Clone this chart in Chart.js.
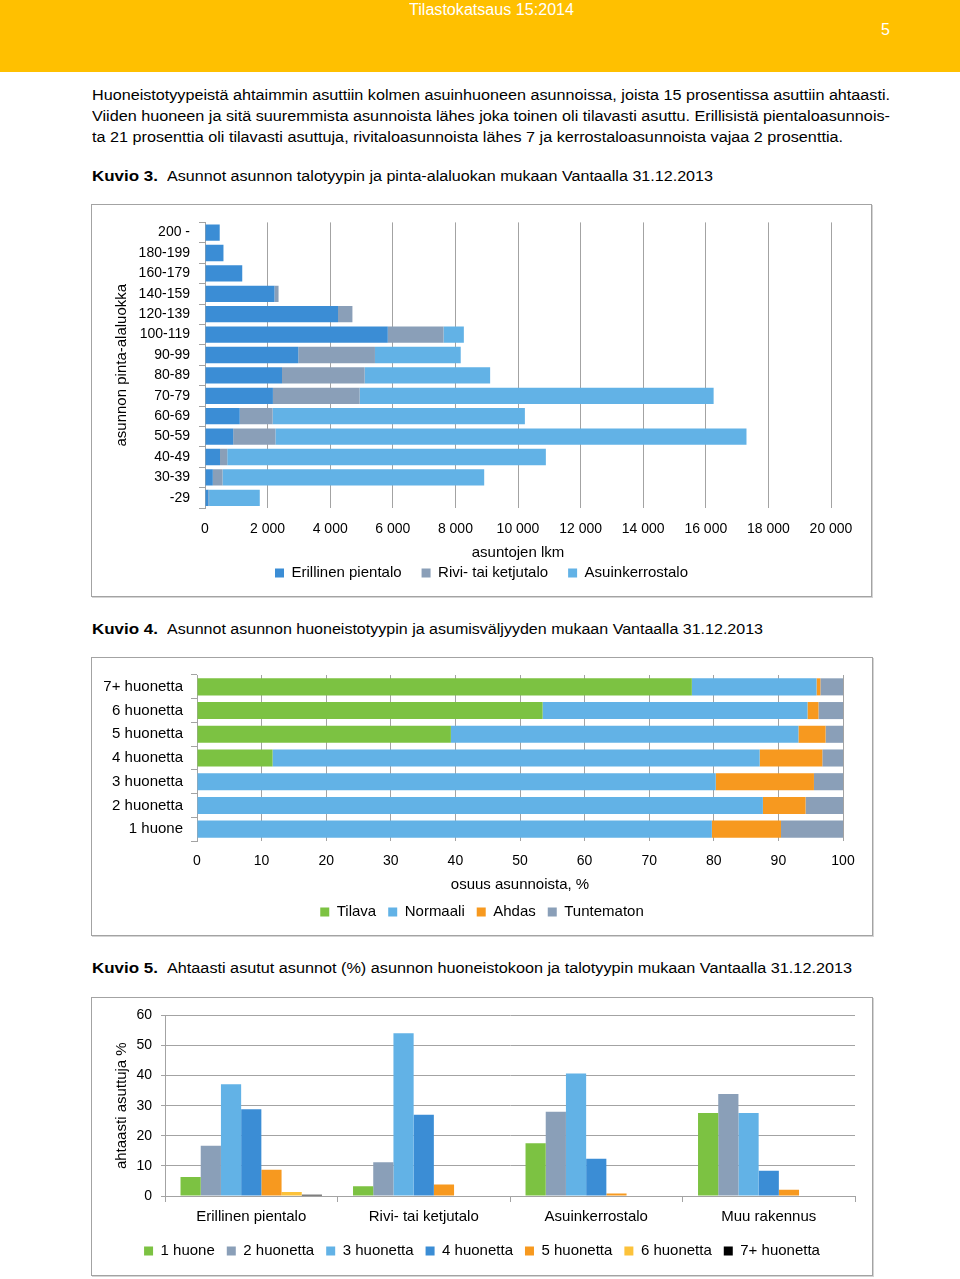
<!DOCTYPE html>
<html lang="fi">
<head>
<meta charset="utf-8">
<title>Tilastokatsaus 15:2014</title>
<script src="https://cdn.jsdelivr.net/npm/chart.js@4.4.1/dist/chart.umd.min.js"></script>
<style>
body { margin: 0; background: #fff; font-family: "Liberation Sans", Arial, sans-serif; color: #000; }
#page { position: relative; width: 960px; height: 1279px; overflow: hidden; }
.band { position: absolute; left: 0; top: 0; width: 960px; height: 72px; background: #ffc000; }
.t { position: absolute; white-space: nowrap; line-height: 18px; font-size: 15.5px; transform-origin: 0 50%; }
.w { color: #fff; font-size: 16px; }
.b { font-weight: bold; }
.box { position: absolute; border: 1px solid #a3a3a3; box-shadow: 1px 1px 0 #d4d4d4; }
.box canvas { position: absolute; left: 0; top: 0; }
</style>
</head>
<body>
<div id="page">
  <div class="band"></div>
  <div class="t w" id="hdr" style="left:409px; top:1px;">Tilastokatsaus 15:2014</div>
  <div class="t w" style="left:881px; top:21px;">5</div>

  <div class="t" id="p1" style="left:92px; top:86px;">Huoneistotyypeistä ahtaimmin asuttiin kolmen asuinhuoneen asunnoissa, joista 15 prosentissa asuttiin ahtaasti.</div>
  <div class="t" id="p2" style="left:92px; top:107px;">Viiden huoneen ja sitä suuremmista asunnoista lähes joka toinen oli tilavasti asuttu. Erillisistä pientaloasunnois-</div>
  <div class="t" id="p3" style="left:92px; top:128px;">ta 21 prosenttia oli tilavasti asuttuja, rivitaloasunnoista lähes 7 ja kerrostaloasunnoista vajaa 2 prosenttia.</div>

  <div class="t b" id="k3" style="left:92px; top:167px;">Kuvio 3.</div>
  <div class="t" id="c3" style="left:167px; top:167px;">Asunnot asunnon talotyypin ja pinta-alaluokan mukaan Vantaalla 31.12.2013</div>
  <div class="box" style="left:91px; top:204px; width:779px; height:391px;">
    <canvas id="kuvio3" width="779" height="391"></canvas>
  </div>

  <div class="t b" id="k4" style="left:92px; top:620px;">Kuvio 4.</div>
  <div class="t" id="c4" style="left:167px; top:620px;">Asunnot asunnon huoneistotyypin ja asumisväljyyden mukaan Vantaalla 31.12.2013</div>
  <div class="box" style="left:91px; top:657px; width:780px; height:277px;">
    <canvas id="kuvio4" width="780" height="277"></canvas>
  </div>

  <div class="t b" id="k5" style="left:92px; top:959px;">Kuvio 5.</div>
  <div class="t" id="c5" style="left:167px; top:959px;">Ahtaasti asutut asunnot (%) asunnon huoneistokoon ja talotyypin mukaan Vantaalla 31.12.2013</div>
  <div class="box" style="left:91px; top:997px; width:780px; height:277px;">
    <canvas id="kuvio5" width="780" height="277"></canvas>
  </div>
</div>

<script>
// Kuvio 3: pinta-alaluokat ja talotyypit (asuntojen lkm)
const areaClasses = ['200 -', '180-199', '160-179', '140-159', '120-139', '100-119', '90-99',
                     '80-89', '70-79', '60-69', '50-59', '40-49', '30-39', '-29'];
const erillinen = [470, 590, 1190, 2220, 4250, 5840, 2980, 2460, 2170, 1110, 900, 480, 250, 110];
const rivi      = [0, 0, 0, 130, 460, 1780, 2450, 2640, 2770, 1050, 1350, 230, 310, 20];
const kerros    = [0, 0, 0, 0, 0, 650, 2740, 4010, 11310, 8060, 15050, 10180, 8360, 1620];

// Kuvio 4: huoneistotyypit ja asumisväljyys (%)
const roomTypes  = ['7+ huonetta', '6 huonetta', '5 huonetta', '4 huonetta', '3 huonetta', '2 huonetta', '1 huone'];
const tilava     = [76.6, 53.5, 39.3, 11.7, 0, 0, 0];
const normaali   = [19.3, 41.0, 53.8, 75.4, 80.3, 87.6, 79.7];
const ahdas      = [0.6, 1.7, 4.2, 9.7, 15.2, 6.6, 10.7];
const tuntematon = [3.5, 3.8, 2.7, 3.2, 4.5, 5.8, 9.6];

// Kuvio 5: ahtaasti asutut (%) talotyypeittäin
const houseTypes = ['Erillinen pientalo', 'Rivi- tai ketjutalo', 'Asuinkerrostalo', 'Muu rakennus'];
const huone1 = [6.3, 3.2, 17.5, 27.6];
const huone2 = [16.7, 11.2, 28.0, 33.9];
const huone3 = [37.1, 54.1, 40.7, 27.6];
const huone4 = [28.8, 27.0, 12.4, 8.4];
const huone5 = [8.7, 3.8, 0.8, 2.1];
const huone6 = [1.3, 0, 0, 0];
const huone7 = [0.4, 0, 0, 0];

const xTicks3 = { min: 0, max: 20000, step: 2000 };
const xTicks4 = { min: 0, max: 100, step: 10 };
const yTicks5 = { min: 0, max: 60, step: 10 };

// Colours
const BLUE_DARK = '#3b8dd5';
const GREY_BLUE = '#8a9fb8';
const BLUE_LIGHT = '#62b2e6';
const GREEN = '#7cc242';
const ORANGE = '#f7991f';
const YELLOW = '#fcc23a';
const GRID = '#a3a3a3';

Chart.defaults.font.family = '"Liberation Sans", Arial, sans-serif';
Chart.defaults.font.size = 14;
Chart.defaults.color = '#000';

const WORDS = { size: 15 };   // letters print a bit wider than the digits

// thousands with a space: 20 000
function spaced(v) {
    return String(v).replace(/\B(?=(\d{3})+(?!\d))/g, ' ');
}

// invisible right axis, just to keep the legend centred in the box
function spacer(w) {
    return {
        position: 'right', type: 'linear', display: true,
        ticks: { display: false }, grid: { display: false }, border: { display: false },
        afterFit: s => { s.width = w; }
    };
}

function legendOpts(pad) {
    return {
        position: 'bottom',
        labels: { boxWidth: 9, boxHeight: 9, padding: pad, color: '#000', font: WORDS }
    };
}

// Kuvio 3
new Chart(document.getElementById('kuvio3'), {
    type: 'bar',
    data: {
        labels: areaClasses,
        datasets: [
            { label: 'Erillinen pientalo', data: erillinen, backgroundColor: BLUE_DARK },
            { label: 'Rivi- tai ketjutalo', data: rivi, backgroundColor: GREY_BLUE },
            { label: 'Asuinkerrostalo', data: kerros, backgroundColor: BLUE_LIGHT }
        ]
    },
    options: {
        indexAxis: 'y',
        responsive: false,
        animation: false,
        layout: { padding: { top: 14, right: 0, bottom: 5.5, left: 0 } },
        datasets: { bar: { barPercentage: 0.8, categoryPercentage: 1 } },
        plugins: { legend: legendOpts(20), tooltip: { enabled: false } },
        scales: {
            x: {
                stacked: true, min: xTicks3.min, max: xTicks3.max,
                ticks: { stepSize: xTicks3.step, padding: 12.6, callback: v => spaced(v) },
                grid: { color: GRID, drawTicks: false },
                border: { display: false },
                title: { display: true, text: 'asuntojen lkm', font: WORDS, padding: { top: 0, bottom: -16.5 } },
                afterFit: s => { s.height = 37.5; }
            },
            y: {
                stacked: true,
                ticks: { padding: 9 },
                grid: { drawOnChartArea: false, tickLength: 6, color: GRID },
                border: { color: GRID },
                title: { display: true, text: 'asunnon pinta-alaluokka', font: WORDS, padding: { top: 21, bottom: 0 } },
                afterFit: s => { s.width = 113; }
            },
            yR: spacer(40)
        }
    }
});

// Kuvio 4
new Chart(document.getElementById('kuvio4'), {
    type: 'bar',
    data: {
        labels: roomTypes,
        datasets: [
            { label: 'Tilava', data: tilava, backgroundColor: GREEN },
            { label: 'Normaali', data: normaali, backgroundColor: BLUE_LIGHT },
            { label: 'Ahdas', data: ahdas, backgroundColor: ORANGE },
            { label: 'Tuntematon', data: tuntematon, backgroundColor: GREY_BLUE }
        ]
    },
    options: {
        indexAxis: 'y',
        responsive: false,
        animation: false,
        layout: { padding: { top: 16, right: 0, bottom: 5.5, left: 0 } },
        datasets: { bar: { barPercentage: 0.72, categoryPercentage: 1 } },
        plugins: { legend: legendOpts(12), tooltip: { enabled: false } },
        scales: {
            x: {
                stacked: true, min: xTicks4.min, max: xTicks4.max,
                ticks: { stepSize: xTicks4.step, padding: 11.6 },
                grid: { color: GRID, drawTicks: false },
                border: { display: false },
                title: { display: true, text: 'osuus asunnoista, %', font: WORDS, padding: { top: 0, bottom: -1.5 } },
                afterFit: s => { s.height = 51.5; }
            },
            y: {
                stacked: true,
                ticks: { padding: 8, font: WORDS },
                grid: { drawOnChartArea: false, tickLength: 6, color: GRID },
                border: { color: GRID },
                afterFit: s => { s.width = 105; }
            },
            yR: spacer(29)
        }
    }
});

// Kuvio 5
new Chart(document.getElementById('kuvio5'), {
    type: 'bar',
    data: {
        labels: houseTypes,
        datasets: [
            { label: '1 huone', data: huone1, backgroundColor: GREEN },
            { label: '2 huonetta', data: huone2, backgroundColor: GREY_BLUE },
            { label: '3 huonetta', data: huone3, backgroundColor: BLUE_LIGHT },
            { label: '4 huonetta', data: huone4, backgroundColor: BLUE_DARK },
            { label: '5 huonetta', data: huone5, backgroundColor: ORANGE },
            { label: '6 huonetta', data: huone6, backgroundColor: YELLOW },
            { label: '7+ huonetta', data: huone7, backgroundColor: '#000' }
        ]
    },
    options: {
        responsive: false,
        animation: false,
        layout: { padding: { top: 16, right: 0, bottom: 6.5, left: 0 } },
        datasets: { bar: { barPercentage: 1, categoryPercentage: 0.82 } },
        plugins: { legend: legendOpts(12), tooltip: { enabled: false } },
        scales: {
            x: {
                ticks: { padding: 6, font: WORDS },
                grid: { drawOnChartArea: false, tickLength: 6, color: GRID },
                border: { color: GRID },
                afterFit: s => { s.height = 35.5; }
            },
            y: {
                min: yTicks5.min, max: yTicks5.max,
                ticks: { stepSize: yTicks5.step, padding: 9 },
                grid: { color: GRID, tickLength: 4 },
                border: { color: GRID },
                title: { display: true, text: 'ahtaasti asuttuja %', font: WORDS, padding: { top: 21, bottom: 0 } },
                afterFit: s => { s.width = 73; }
            },
            yR: spacer(17)
        }
    }
});

// squeeze or stretch text lines to the widths of the printed page
function fitText(id, width) {
    const el = document.getElementById(id);
    const w = el.getBoundingClientRect().width;
    el.style.transform = 'scaleX(' + (width / w) + ')';
}
fitText('hdr', 165);
fitText('p1', 798);
fitText('p2', 798);
fitText('p3', 751);
fitText('k3', 66);
fitText('k4', 66);
fitText('k5', 66);
fitText('c3', 546);
fitText('c4', 596);
fitText('c5', 685);
</script>
</body>
</html>
